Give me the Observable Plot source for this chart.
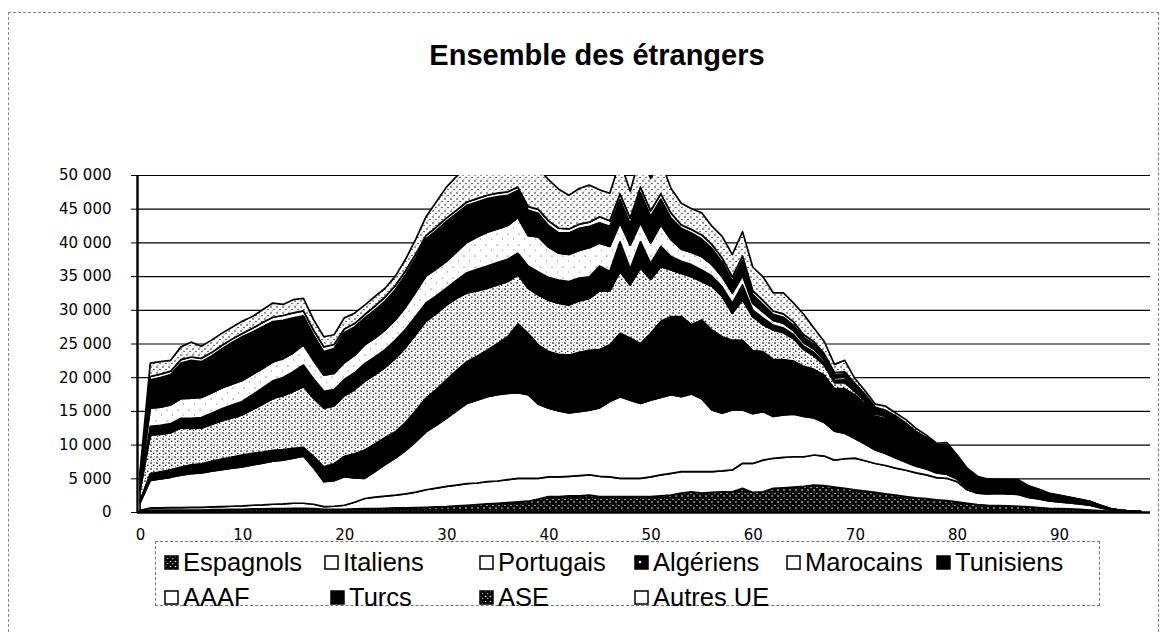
<!DOCTYPE html>
<html>
<head>
<meta charset="utf-8">
<script src="https://cdn.jsdelivr.net/npm/d3@7"></script>
<script src="https://cdn.jsdelivr.net/npm/@observablehq/plot@0.6"></script>
<style>
  body { margin: 0; background: #fff; }
  #wrap { position: relative; width: 1164px; height: 633px; overflow: hidden; background: #fff; font-family: "Liberation Sans", Arial, sans-serif; }
  #pageborder { position: absolute; left: 8px; top: 12px; width: 1151px; height: 640px; border: 1px dashed #888; box-sizing: border-box; }
  #title { position: absolute; left: 247px; width: 700px; top: 38px; text-align: center; font-weight: bold; font-size: 29px; line-height: 34px; color: #000; }
  #chart { position: absolute; left: 0; top: 0; }
  #legend { position: absolute; left: 155px; top: 541px; width: 945px; height: 65px; border: 1px dashed #777; box-sizing: border-box; background: #fff; }
  .item { position: absolute; font-size: 25.5px; line-height: 28px; color: #000; white-space: nowrap; display: flex; align-items: center; }
  .item svg { margin-right: 4px; }
</style>
</head>
<body>
<div id="wrap">
  <div id="pageborder"></div>
  <div id="chart"></div>
  <div id="title">Ensemble des étrangers</div>
  <div id="legend"></div>
</div>
<script>
// Ages (categories) 0..98
const ages = d3.range(0, 99);
const seriesNames = ["Espagnols","Italiens","Portugais","Algériens","Marocains","Tunisiens","AAAF","Turcs","ASE","Autres UE"];
const xTicks = [0,10,20,30,40,50,60,70,80,90];
const yTicks = [0,5000,10000,15000,20000,25000,30000,35000,40000,45000,50000];

const espagnols = [100,300,300,300,300,300,300,350,350,400,
  400,450,450,500,500,550,550,500,400,400,
  400,450,500,500,550,600,600,650,700,750,
  800,900,1000,1100,1200,1300,1400,1500,1600,1900,
  2300,2300,2400,2400,2500,2300,2300,2300,2300,2300,
  2300,2400,2500,2800,3000,2800,2900,3000,3000,3500,
  2900,3000,3500,3600,3700,3800,4000,3900,3700,3500,
  3300,3100,2900,2700,2500,2300,2100,2000,1800,1700,
  1500,1300,1100,1000,950,900,850,750,650,550,
  500,450,400,300,200,100,50,30,10];
const italiens = [150,300,300,350,350,400,400,400,450,450,
  500,550,600,650,700,750,750,650,400,450,
  600,1000,1500,1700,1800,1900,2100,2300,2600,2800,
  3000,3100,3200,3200,3300,3300,3400,3500,3400,3100,
  2900,2900,2900,3000,3000,3000,2900,2700,2700,2700,
  2900,3100,3240,3200,3000,3200,3100,3100,3240,3730,
  4300,4700,4470,4500,4500,4400,4460,4400,4000,4400,
  4700,4500,4300,4200,4000,3900,3700,3500,3300,3300,
  3000,2000,1700,1700,1800,1800,1750,1400,1300,1100,
  1000,900,800,700,450,200,100,60,20];
const portugais = [1100,4100,4300,4500,4800,5000,5100,5300,5500,5650,
  5800,6000,6200,6400,6500,6670,7000,5400,3700,3800,
  4250,3600,3000,3800,4700,5500,6400,7500,8600,9300,
  10100,11000,11900,12300,12600,12800,12800,12700,12400,11000,
  10200,9800,9400,9500,9600,10150,11200,12100,11600,11100,
  11400,11500,11660,11100,11500,10800,9150,8550,8900,7900,
  7400,7200,6200,6300,6300,6000,5500,5000,4300,3800,
  2900,2500,2000,1800,1500,1200,1000,900,700,600,
  400,300,250,200,200,200,200,150,150,100,
  100,100,50,50,50,0,0,0,0];
const algeriens = [300,1000,1050,1100,1200,1300,1350,1450,1550,1650,
  1760,1700,1650,1600,1550,1480,1300,1700,2200,2500,
  3000,3600,4200,4100,4000,3900,4200,4600,5000,5300,
  5700,6000,6200,6500,6900,7600,8400,10200,9100,8800,
  8400,8400,8600,8800,8900,8650,8400,9400,9200,8900,
  9900,11300,11600,11900,10300,11700,11850,11350,10350,10350,
  9350,8900,8450,8200,7900,7400,7200,7000,6300,6600,
  6500,5900,5000,5200,5100,4700,4200,3800,3400,3600,
  2700,2200,1700,1500,1500,1500,1550,1300,1100,900,
  800,650,550,500,300,200,100,60,20];
const marocains = [1500,5700,5600,5500,5800,5400,5300,5500,5700,5800,
  5940,6500,7100,7700,8000,8450,9000,8600,8700,8600,
  9000,9500,10200,10300,10400,10900,11100,11300,11400,11300,
  11100,10700,10200,9700,9200,8700,8200,7300,6700,7400,
  7600,7600,7400,7600,7700,8700,8000,9200,7900,11200,
  8000,8100,6900,6400,7100,5700,6500,6000,4000,6000,
  5000,4000,4400,4000,3300,2500,2000,1500,900,900,
  500,400,350,300,300,300,250,250,200,200,
  200,150,100,100,100,100,100,50,50,50,
  50,50,50,0,0,0,0,0,0];
const tunisiens = [350,1300,1300,1350,1450,1500,1550,1650,1750,1900,
  2000,2200,2400,2600,2700,2900,3200,2900,2500,2400,
  2400,2500,2600,2600,2650,2700,2700,2700,2700,2600,
  2500,2700,3000,3200,3300,3300,3300,3200,3300,3400,
  3400,3400,3500,3400,3200,3700,2900,4400,2400,3900,
  2400,3000,2000,1800,1800,1700,1500,1400,1500,2200,
  1000,1000,700,700,600,500,500,400,350,400,
  300,250,250,200,200,200,150,150,150,150,
  150,100,100,50,50,50,50,50,50,0,
  0,0,0,0,0,0,0,0,0];
const aaaf = [700,2700,2700,2800,2900,3000,3000,3000,3100,3100,
  3100,3000,2900,2800,2800,2800,3000,2700,2400,2400,
  2500,2600,2800,2800,2900,3000,3300,3600,4000,4000,
  4000,4200,4500,4800,5000,5000,5000,5300,4500,5200,
  4500,4000,4000,4100,4300,3400,3700,2800,3500,2800,
  3000,3200,2500,1800,1800,2000,1700,1500,1500,1400,
  1000,900,700,700,600,500,500,400,350,400,
  300,250,250,200,200,200,150,150,150,150,
  100,100,50,50,50,50,50,50,0,0,
  0,0,0,0,0,0,0,0,0];
const turcs = [1100,4200,4400,4500,5300,5600,5300,5500,5800,6200,
  6500,6300,6200,6000,5700,5200,4300,3800,3500,3700,
  4500,4200,4000,4200,4300,4500,4800,5100,5500,5700,
  5900,5700,5500,5200,5000,4800,4500,4000,3800,3500,
  3200,3000,3200,3300,3200,3000,3000,3500,3200,4500,
  4000,3800,3200,3100,2900,2600,2400,2200,1800,2200,
  1300,1100,900,900,800,800,700,600,500,500,
  400,350,300,300,300,250,250,200,150,150,
  100,100,50,50,50,50,50,0,0,0,
  0,0,0,0,0,0,0,0,0];
const ase = [150,500,500,500,500,500,500,500,500,500,
  500,550,600,650,700,750,750,700,700,600,
  500,500,500,550,600,600,600,550,500,500,
  500,500,500,500,500,500,500,500,500,600,
  700,700,600,600,600,900,800,800,800,800,
  800,800,750,500,500,600,600,600,600,700,
  600,600,500,500,500,400,400,300,300,300,
  200,200,200,200,150,150,150,100,100,100,
  100,50,50,50,50,50,50,50,0,0,
  0,0,0,0,0,0,0,0,0];
const autresUE = [550,2000,1850,1600,1900,2200,1800,1850,1800,1750,
  1800,1750,1900,2100,1650,1950,1850,1550,1500,1450,
  1650,1550,1400,1450,1300,1400,1700,2200,2800,3750,
  4600,5000,5000,5300,5300,5500,5300,5100,5000,6100,
  6100,5800,5000,5300,5500,4000,4100,4800,4000,4800,
  4800,4800,3650,3200,3100,3300,2700,3200,3300,3600,
  3500,3500,2700,3100,2800,3000,2000,1800,1200,1700,
  700,550,450,600,450,500,450,350,250,350,
  250,200,200,200,100,150,150,100,100,100,
  50,50,50,50,0,0,0,0,0];

const seriesValues = [espagnols, italiens, portugais, algeriens, marocains, tunisiens, aaaf, turcs, ase, autresUE];
const fills = ["url(#pEsp)", "#ffffff", "#ffffff", "#000000", "url(#pMar)", "#000000", "url(#pAaaf)", "#000000", "#ffffff", "url(#pAue)"];

const data = seriesNames.flatMap((s, i) => ages.map((a, j) => ({age: a, series: s, value: seriesValues[i][j]})));

const fmt = d => d === 0 ? "0" : d3.format(",")(d).replace(/,/g, " ");

const plot = Plot.plot({
  width: 1164,
  height: 633,
  marginLeft: 137,
  marginRight: 14,
  marginTop: 175,
  marginBottom: 121,
  x: {domain: [-0.3, 98.9], ticks: xTicks, tickSize: 0, tickPadding: 17, tickFormat: d => String(d), label: null},
  y: {domain: [0, 50000], ticks: yTicks, tickSize: 6, tickPadding: 20, tickFormat: fmt, label: null},
  color: {domain: seriesNames, range: fills},
  style: {fontFamily: "'DejaVu Sans', sans-serif", fontSize: "15px", color: "#000", background: "transparent", overflow: "visible"},
  marks: [
    Plot.gridY(yTicks, {stroke: "#000", strokeOpacity: 1, strokeWidth: 1.2}),
    Plot.areaY(data, {x: "age", y: "value", z: "series", fill: "series", order: seriesNames, stroke: "#000", strokeWidth: 1.7, strokeLinejoin: "round", clip: true}),
    Plot.ruleY([0], {stroke: "#000", strokeWidth: 2.4}),
    Plot.ruleX([-0.3], {stroke: "#000", strokeWidth: 2.4})
  ]
});

// pattern definitions
const svgSel = d3.select(plot);
const defs = svgSel.insert("defs", ":first-child");
function pattern(id, w, h, bg, fg, dots) {
  const p = defs.append("pattern").attr("id", id).attr("patternUnits", "userSpaceOnUse").attr("width", w).attr("height", h);
  p.append("rect").attr("width", w).attr("height", h).attr("fill", bg);
  dots.forEach(([cx, cy, r]) => p.append("circle").attr("cx", cx).attr("cy", cy).attr("r", r).attr("fill", fg));
}
pattern("pEsp", 6, 6, "#000", "#fff", [[1,1.5,0.7],[4,4,0.8],[4.6,0.8,0.4]]);
pattern("pMar", 6, 6, "#fff", "#000", [[1,1,0.85],[3.8,3.2,0.8],[1.6,4.6,0.5],[4.8,0.7,0.4]]);
pattern("pAaaf", 11, 11, "#fff", "#000", [[2,3,0.5],[7.5,8,0.45]]);
pattern("pAue", 6, 6, "#fff", "#000", [[1,1,0.75],[4,3.5,0.65],[2,5,0.45]]);

document.getElementById("chart").appendChild(plot);

// legend (HTML)
const legendItems = [
  {name: "Espagnols", x: 8, row: 0, sw: "dots"},
  {name: "Italiens", x: 168, row: 0, sw: "white"},
  {name: "Portugais", x: 323, row: 0, sw: "white"},
  {name: "Algériens", x: 478, row: 0, sw: "dot"},
  {name: "Marocains", x: 630, row: 0, sw: "white"},
  {name: "Tunisiens", x: 780, row: 0, sw: "black"},
  {name: "AAAF", x: 8, row: 1, sw: "white"},
  {name: "Turcs", x: 174, row: 1, sw: "black"},
  {name: "ASE", x: 323, row: 1, sw: "dots"},
  {name: "Autres UE", x: 478, row: 1, sw: "white"}
];
const legend = document.getElementById("legend");
legendItems.forEach((it, i) => {
  const div = document.createElement("div");
  div.className = "item";
  div.style.left = it.x + "px";
  div.style.top = (it.row === 0 ? 6 : 41) + "px";
  const s = d3.create("svg").attr("width", 15).attr("height", 15);
  if (it.sw === "dots") {
    const pd = s.append("defs").append("pattern").attr("id", "lg" + i).attr("patternUnits", "userSpaceOnUse").attr("width", 5).attr("height", 5);
    pd.append("rect").attr("width", 5).attr("height", 5).attr("fill", "#000");
    pd.append("circle").attr("cx", 1.5).attr("cy", 1.5).attr("r", 0.8).attr("fill", "#fff");
    pd.append("circle").attr("cx", 3.8).attr("cy", 3.6).attr("r", 0.6).attr("fill", "#fff");
    s.append("rect").attr("x", 1).attr("y", 1).attr("width", 13).attr("height", 13).attr("fill", `url(#lg${i})`).attr("stroke", "#000").attr("stroke-width", 1.5);
  } else if (it.sw === "dot") {
    s.append("rect").attr("x", 1).attr("y", 1).attr("width", 13).attr("height", 13).attr("fill", "#000").attr("stroke", "#000").attr("stroke-width", 1.5);
    s.append("circle").attr("cx", 6).attr("cy", 7).attr("r", 1.3).attr("fill", "#fff");
  } else {
    s.append("rect").attr("x", 1).attr("y", 1).attr("width", 13).attr("height", 13).attr("fill", it.sw === "black" ? "#000" : "#fff").attr("stroke", "#000").attr("stroke-width", 1.5);
  }
  div.appendChild(s.node());
  const t = document.createElement("span");
  t.textContent = it.name;
  div.appendChild(t);
  legend.appendChild(div);
});
</script>
</body>
</html>
